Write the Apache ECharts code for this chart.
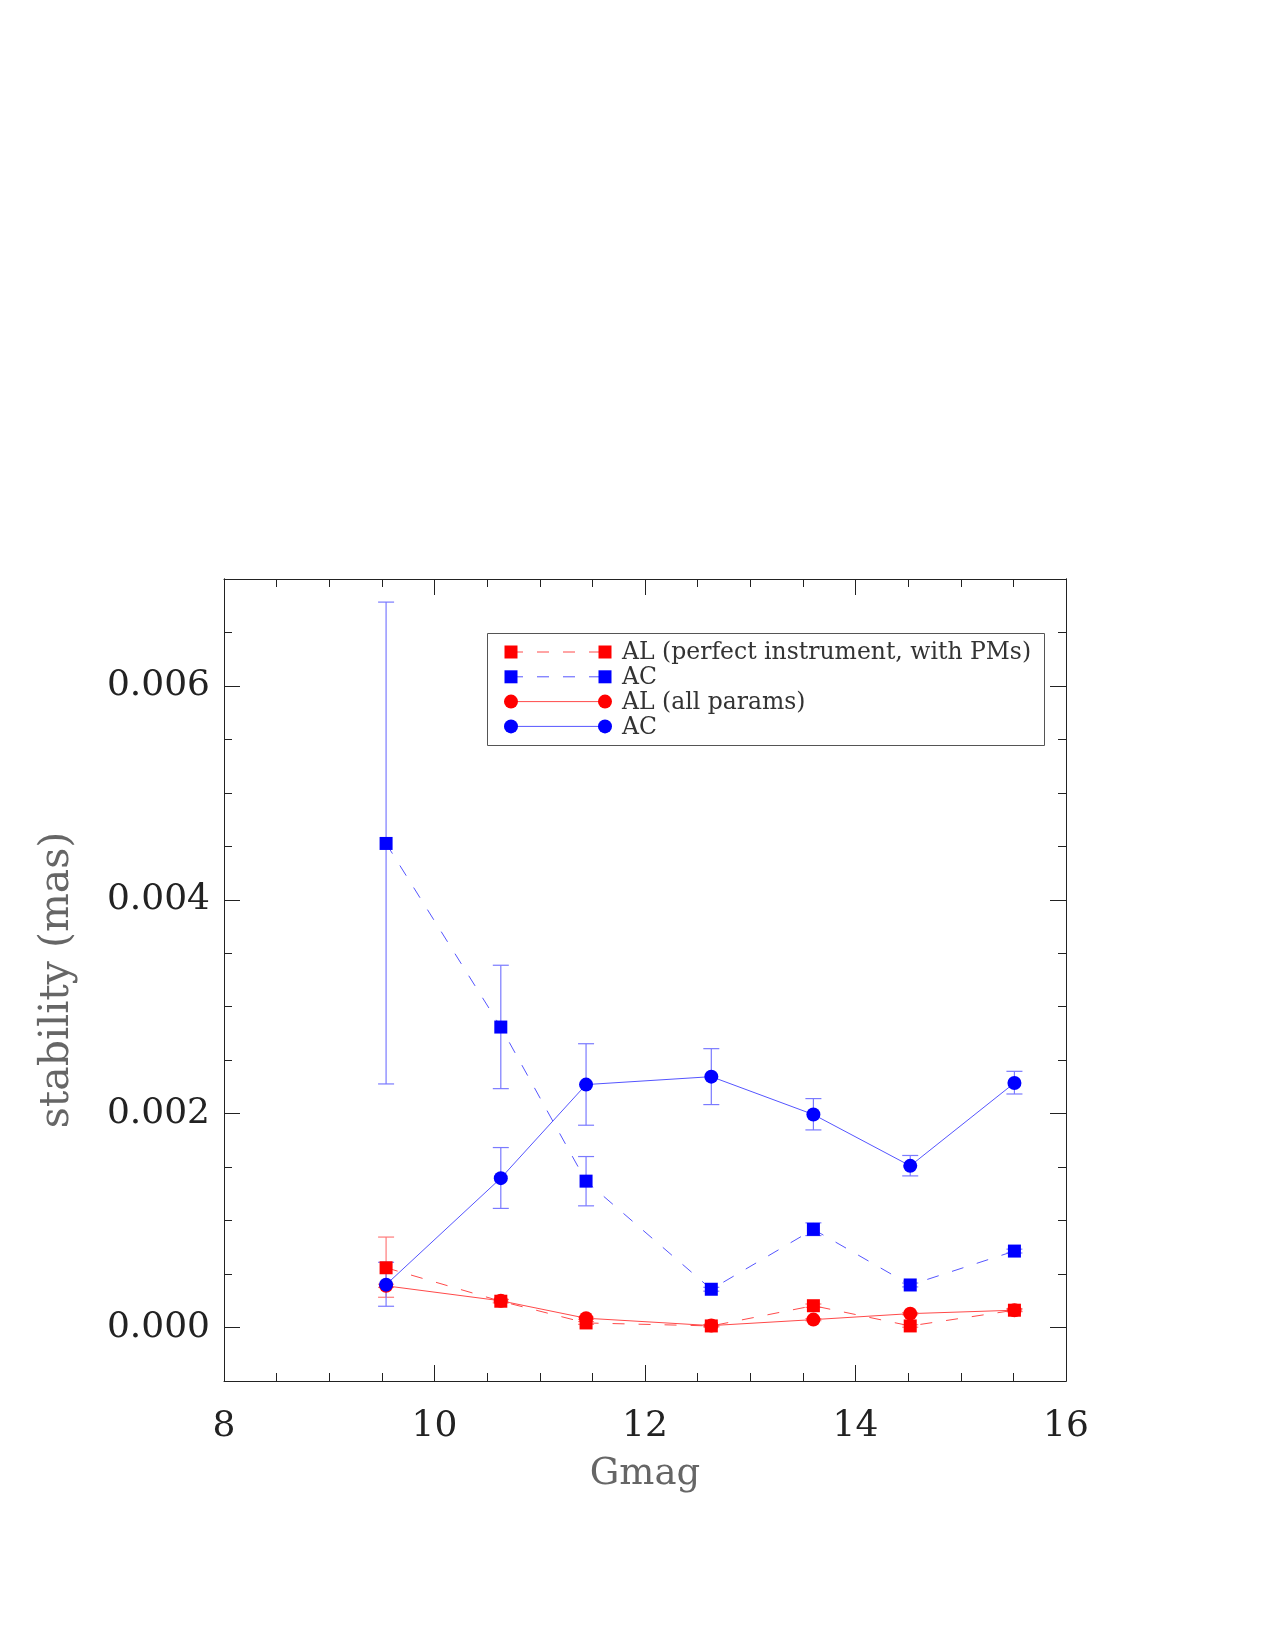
<!DOCTYPE html>
<html>
<head>
<meta charset="utf-8">
<title>stability vs Gmag</title>
<script src="https://cdn.jsdelivr.net/npm/echarts@6/dist/echarts.min.js"></script>
<style>
  html, body { margin: 0; padding: 0; background: #fff; }
  #chart { width: 1275px; height: 1650px; }
</style>
</head>
<body>
<div id="chart"></div>
<script>
// magnitude bins
const gmag = [9.54, 10.63, 11.44, 12.63, 13.60, 14.52, 15.51];

// AL (perfect instrument, with PMs)
const alPerfect   = [0.000559, 0.000246, 0.000043, 0.000015, 0.000204, 0.000015, 0.000162];
const alPerfectLo = [0.000283, 0.000230, 0.000030, 0.000005, 0.000188, 0.000003, 0.000148];
const alPerfectHi = [0.000846, 0.000262, 0.000056, 0.000025, 0.000220, 0.000027, 0.000176];

// AC (perfect instrument, with PMs)
const acPerfect   = [0.004527, 0.002810, 0.001369, 0.000358, 0.000918, 0.000398, 0.000715];
const acPerfectLo = [0.002278, 0.002234, 0.001138, 0.000340, 0.000860, 0.000380, 0.000697];
const acPerfectHi = [0.006784, 0.003388, 0.001599, 0.000376, 0.000979, 0.000416, 0.000733];

// AL (all params)
const alAll   = [0.000390, 0.000250, 0.000087, 0.000018, 0.000074, 0.000130, 0.000162];
const alAllLo = [0.000375, 0.000238, 0.000077, 0.000010, 0.000064, 0.000120, 0.000152];
const alAllHi = [0.000405, 0.000262, 0.000097, 0.000026, 0.000084, 0.000140, 0.000172];

// AC (all params)
const acAll   = [0.000401, 0.001397, 0.002272, 0.002346, 0.001992, 0.001512, 0.002287];
const acAllLo = [0.000199, 0.001114, 0.001892, 0.002085, 0.001848, 0.001418, 0.002184];
const acAllHi = [0.000610, 0.001683, 0.002654, 0.002608, 0.002141, 0.001609, 0.002396];

// tick labels
const xTicks = [8, 10, 12, 14, 16];
const yMajorTicks = [0, 0.002, 0.004, 0.006];
const yMinorTicks = [-0.0005, 0.0005, 0.001, 0.0015, 0.0025, 0.003, 0.0035,
                     0.0045, 0.005, 0.0055, 0.0065, 0.007];

const legendNames = ["AL (perfect instrument, with PMs)", "AC", "AL (all params)", "AC"];

const RED = "#ff0000", BLUE = "#0000ff";
const RED_LINE = "#ff4a4a", BLUE_LINE = "#5555ff";
const RED_ERR = "#ff7a7a", BLUE_ERR = "#7a7aff";
const FONT = "DejaVu Serif";
const axisCol = "#222";

const chart = echarts.init(document.getElementById("chart"));

const pts = (ys) => gmag.map((g, i) => [g, ys[i]]);
const errPts = (lo, hi) => gmag.map((g, i) => [g, lo[i], hi[i]]);

function errorBar(color) {
  return function (params, api) {
    const lo = api.coord([api.value(0), api.value(1)]);
    const hi = api.coord([api.value(0), api.value(2)]);
    const w = 8;
    const style = { stroke: color, lineWidth: 1.2 };
    return {
      type: "group",
      children: [
        { type: "line", shape: { x1: lo[0], y1: lo[1], x2: hi[0], y2: hi[1] }, style },
        { type: "line", shape: { x1: lo[0] - w, y1: lo[1], x2: lo[0] + w, y2: lo[1] }, style },
        { type: "line", shape: { x1: hi[0] - w, y1: hi[1], x2: hi[0] + w, y2: hi[1] }, style }
      ]
    };
  };
}

const tickStyle = { color: axisCol, width: 1 };
const baseX = {
  type: "value", min: 8, max: 16, interval: 2,
  axisLine: { show: true, onZero: false, lineStyle: tickStyle },
  axisTick: { show: true, inside: true, length: 16, lineStyle: tickStyle },
  minorTick: { show: true, splitNumber: 4, length: 8, lineStyle: tickStyle },
  splitLine: { show: false }
};
const baseY = {
  type: "value", min: -0.0005, max: 0.007,
  axisLine: { show: true, onZero: false, lineStyle: tickStyle },
  splitLine: { show: false }
};

// legend drawn as graphic so each row has symbols at both ends
const legendRows = [
  { color: RED, line: RED_LINE, symbol: "rect", dashed: true },
  { color: BLUE, line: BLUE_LINE, symbol: "rect", dashed: true },
  { color: RED, line: RED_LINE, symbol: "circle", dashed: false },
  { color: BLUE, line: BLUE_LINE, symbol: "circle", dashed: false }
];
const lgX = 487, lgY = 633, lgW = 557, lgH = 112;
const legendGraphic = [{
  type: "rect", left: lgX, top: lgY,
  shape: { width: lgW, height: lgH },
  style: { fill: "#fff", stroke: "#555", lineWidth: 1 }, z: 50
}];
legendRows.forEach((r, i) => {
  const y = 652 + i * 24.8;
  legendGraphic.push({
    type: "line", shape: { x1: 511, y1: y, x2: 605, y2: y },
    style: { stroke: r.line, lineWidth: 1, lineDash: r.dashed ? [12, 14] : null }, z: 51
  });
  [511, 605].forEach((cx) => {
    if (r.symbol === "rect") {
      legendGraphic.push({ type: "rect", shape: { x: cx - 6.5, y: y - 6.5, width: 13, height: 13 },
        style: { fill: r.color }, z: 52 });
    } else {
      legendGraphic.push({ type: "circle", shape: { cx: cx, cy: y, r: 7 },
        style: { fill: r.color }, z: 52 });
    }
  });
  legendGraphic.push({
    type: "text", x: 622, y: y + 1,
    style: { text: legendNames[i], font: "23.5px '" + FONT + "'", fill: "#333", verticalAlign: "middle" },
    z: 52
  });
});

const option = {
  backgroundColor: "#fff",
  animation: false,
  grid: { left: 224, top: 579, width: 842, height: 802 },
  xAxis: [
    Object.assign({}, baseX, {
      position: "bottom",
      axisLabel: { show: true, margin: 28, fontFamily: FONT, fontSize: 36, color: "#222",
        customValues: xTicks },
      name: "Gmag", nameLocation: "middle", nameGap: 75,
      nameTextStyle: { fontFamily: FONT, fontSize: 37, color: "#666" }
    }),
    Object.assign({}, baseX, { position: "top", axisLabel: { show: false } })
  ],
  yAxis: [
    Object.assign({}, baseY, {
      position: "left",
      axisTick: { show: true, inside: true, length: 16, lineStyle: tickStyle, customValues: yMajorTicks },
      axisLabel: { show: true, margin: 14, fontFamily: FONT, fontSize: 36, color: "#222",
        padding: [6, 0, 0, 0],
        customValues: yMajorTicks, formatter: (v) => v.toFixed(3) },
      name: "stability (mas)", nameLocation: "middle", nameGap: 146,
      nameTextStyle: { fontFamily: FONT, fontSize: 41, color: "#666" }
    }),
    Object.assign({}, baseY, {
      position: "left",
      axisTick: { show: true, inside: true, length: 8, lineStyle: tickStyle, customValues: yMinorTicks },
      axisLabel: { show: false }
    }),
    Object.assign({}, baseY, {
      position: "right",
      axisTick: { show: true, inside: true, length: 16, lineStyle: tickStyle, customValues: yMajorTicks },
      axisLabel: { show: false }
    }),
    Object.assign({}, baseY, {
      position: "right",
      axisTick: { show: true, inside: true, length: 8, lineStyle: tickStyle, customValues: yMinorTicks },
      axisLabel: { show: false }
    })
  ],
  graphic: legendGraphic,
  series: [
    { type: "custom", name: "errAlPerfect", renderItem: errorBar(RED_ERR), data: errPts(alPerfectLo, alPerfectHi),
      encode: { x: 0, y: [1, 2] }, z: 1, silent: true },
    { type: "custom", name: "errAcPerfect", renderItem: errorBar(BLUE_ERR), data: errPts(acPerfectLo, acPerfectHi),
      encode: { x: 0, y: [1, 2] }, z: 1, silent: true },
    { type: "custom", name: "errAlAll", renderItem: errorBar(RED_ERR), data: errPts(alAllLo, alAllHi),
      encode: { x: 0, y: [1, 2] }, z: 1, silent: true },
    { type: "custom", name: "errAcAll", renderItem: errorBar(BLUE_ERR), data: errPts(acAllLo, acAllHi),
      encode: { x: 0, y: [1, 2] }, z: 1, silent: true },
    { type: "line", name: legendNames[0], data: pts(alPerfect), symbol: "rect", symbolSize: 13,
      itemStyle: { color: RED }, lineStyle: { color: RED_LINE, width: 1, type: [12, 14] }, z: 3 },
    { type: "line", name: legendNames[1], data: pts(acPerfect), symbol: "rect", symbolSize: 13,
      itemStyle: { color: BLUE }, lineStyle: { color: BLUE_LINE, width: 1, type: [12, 14] }, z: 3 },
    { type: "line", name: legendNames[2], data: pts(alAll), symbol: "circle", symbolSize: 14,
      itemStyle: { color: RED }, lineStyle: { color: RED_LINE, width: 1 }, z: 4 },
    { type: "line", name: legendNames[3], data: pts(acAll), symbol: "circle", symbolSize: 14,
      itemStyle: { color: BLUE }, lineStyle: { color: BLUE_LINE, width: 1 }, z: 4 }
  ]
};

chart.setOption(option);
</script>
</body>
</html>
